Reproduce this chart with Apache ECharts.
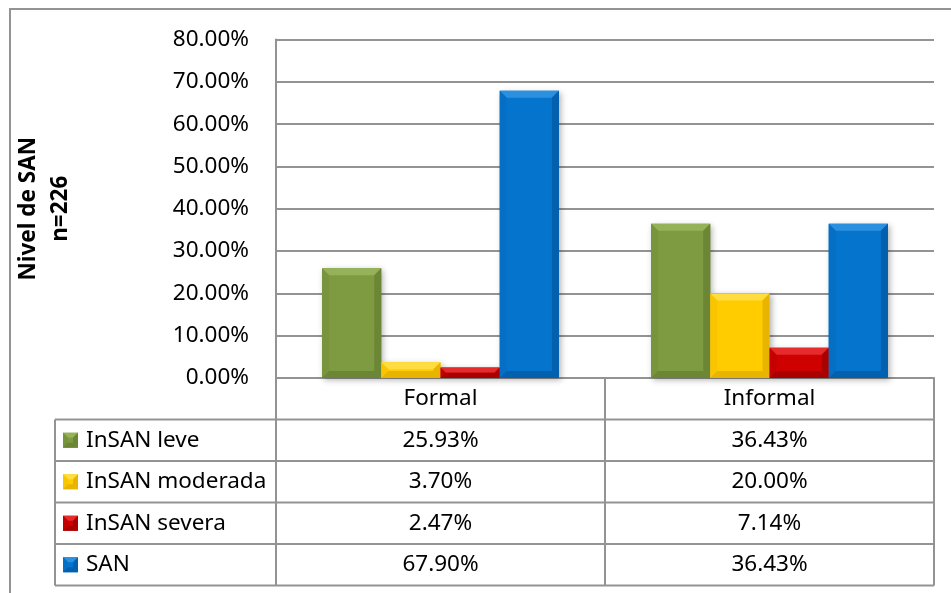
<!DOCTYPE html>
<html>
<head>
<meta charset="utf-8">
<script src="https://cdn.jsdelivr.net/npm/echarts@6/dist/echarts.min.js"></script>
<style>
  html, body { margin: 0; padding: 0; background: #fff; }
  #chart { width: 951px; height: 593px; }
</style>
</head>
<body>
<div id="chart"></div>
<script>
// Categories and series (percent of households, n=226)
const categories = ['Formal', 'Informal'];
const seriesNames = ['InSAN leve', 'InSAN moderada', 'InSAN severa', 'SAN'];
const insanLeve = [25.93, 36.43];
const insanModerada = [3.70, 20.00];
const insanSevera = [2.47, 7.14];
const san = [67.90, 36.43];
const yTickValues = [0, 10, 20, 30, 40, 50, 60, 70, 80];
const axisTitle = 'Nivel de SAN\nn=226';

const seriesValues = [insanLeve, insanModerada, insanSevera, san];

// Bevelled fill palette: face, top facet, left facet, right/bottom facet
const palette = [
  { base: '#7f9b42', light: '#95b259', left: '#78943d', dark: '#6b8635' },
  { base: '#ffcc00', light: '#ffdd40', left: '#f8c500', dark: '#e9b400' },
  { base: '#cf0000', light: '#e52b2b', left: '#c40000', dark: '#a90000' },
  { base: '#0574cc', light: '#2c90e1', left: '#056ec5', dark: '#0360ae' }
];

const FONT = '"Noto Sans", "Open Sans", sans-serif';
const LINE = '#939393';
const FS = 22.5;
const CAT_GAP = 0.28; // share of each category left empty around its bar group

const fmt = v => v.toFixed(2) + '%';

// Draws a bevelled block: flat face with four sloped facets
function bevelShapes(x0, y0, x1, y1, b, p, z) {
  const poly = (pts, fill) => ({ type: 'polygon', shape: { points: pts }, style: { fill }, z2: z });
  return [
    poly([[x0, y0], [x1, y0], [x1 - b, y0 + b], [x0 + b, y0 + b]], p.light),
    poly([[x0, y0], [x0 + b, y0 + b], [x0 + b, y1 - b], [x0, y1]], p.left),
    poly([[x1, y0], [x1, y1], [x1 - b, y1 - b], [x1 - b, y0 + b]], p.dark),
    poly([[x0, y1], [x0 + b, y1 - b], [x1 - b, y1 - b], [x1, y1]], p.dark)
  ];
}

const chart = echarts.init(document.getElementById('chart'), null, { renderer: 'canvas' });

const gridBox = { left: 276, top: 39.5, right: 17, height: 338.5 };

function barRenderer(sIdx) {
  const p = palette[sIdx];
  return function (params, api) {
    const cat = api.value(0);
    const val = api.value(1);
    const band = api.size([1, 0])[0];
    const barW = band * (1 - CAT_GAP) / seriesNames.length;
    const base = api.coord([cat, 0]);
    const top = api.coord([cat, val]);
    const x0 = base[0] - band * (1 - CAT_GAP) / 2 + sIdx * barW;
    const x1 = x0 + barW;
    const y0 = top[1];
    const y1 = base[1];
    const b = Math.min(7, (y1 - y0) / 2, barW / 2);
    return {
      type: 'group',
      children: [
        {
          type: 'rect',
          shape: { x: x0, y: y0, width: x1 - x0, height: y1 - y0 },
          style: {
            fill: p.base,
            shadowBlur: 6,
            shadowColor: 'rgba(0,0,0,0.3)',
            shadowOffsetX: 2,
            shadowOffsetY: 2
          },
          z2: 1
        }
      ].concat(bevelShapes(x0, y0, x1, y1, b, p, 2))
    };
  };
}

chart.setOption({
  animation: false,
  backgroundColor: '#fff',
  textStyle: { fontFamily: FONT },
  grid: { left: gridBox.left, top: gridBox.top, right: gridBox.right, height: gridBox.height, containLabel: false },
  xAxis: {
    type: 'category',
    data: categories,
    axisLine: { show: true, lineStyle: { color: LINE, width: 2 } },
    axisTick: { show: false },
    axisLabel: { fontSize: FS, color: '#000', margin: 9, fontFamily: FONT }
  },
  yAxis: {
    type: 'value',
    min: yTickValues[0],
    max: yTickValues[yTickValues.length - 1],
    interval: yTickValues[1] - yTickValues[0],
    name: axisTitle,
    nameLocation: 'middle',
    nameRotate: 90,
    nameGap: 199,
    nameTextStyle: { fontSize: FS, fontWeight: 'bold', color: '#000', lineHeight: 32, fontFamily: FONT },
    axisLine: { show: true, lineStyle: { color: LINE, width: 2 } },
    axisTick: { show: false },
    splitLine: { lineStyle: { color: LINE, width: 2 } },
    axisLabel: { fontSize: FS, color: '#000', margin: 27, fontFamily: FONT, formatter: v => fmt(v) }
  },
  series: seriesNames.map((name, i) => ({
    name,
    type: 'custom',
    renderItem: barRenderer(i),
    encode: { x: 0, y: 1 },
    data: seriesValues[i].map((v, c) => [c, v]),
    z: 5
  }))
});

// Data table under the plot, laid out from the axis positions
function buildTable() {
  const y0 = chart.convertToPixel({ yAxisIndex: 0 }, 0);
  const xLeft = gridBox.left;
  const xRight = 951 - gridBox.right;
  const tableLeft = 55;
  const rowH = 41.5;
  const headerBottom = y0 + rowH;
  const colCenters = categories.map(c => chart.convertToPixel({ xAxisIndex: 0 }, c));
  const divider = (colCenters[0] + colCenters[1]) / 2;
  const bottom = headerBottom + rowH * seriesNames.length;

  const els = [];
  // outer chart frame
  els.push({ type: 'rect', shape: { x: 10, y: 9, width: 980, height: 640 },
    style: { fill: null, stroke: LINE, lineWidth: 2 }, silent: true, z: 0 });
  const line = (x1, y1, x2, y2) => els.push({ type: 'line', shape: { x1, y1, x2, y2 },
    style: { stroke: LINE, lineWidth: 2 }, silent: true, z: 10 });

  line(xLeft, y0, xLeft, bottom);
  line(xRight, y0, xRight, bottom);
  line(divider, y0, divider, bottom);
  line(tableLeft, headerBottom, tableLeft, bottom);
  for (let r = 0; r <= seriesNames.length; r++) {
    const y = headerBottom + rowH * r;
    line(tableLeft, y, xRight, y);
  }

  seriesNames.forEach((name, r) => {
    const cy = headerBottom + rowH * r + rowH / 2;
    const p = palette[r];
    // legend key: small bevelled square
    const kx = 63, ky = cy - 7.5, ks = 15;
    els.push({ type: 'rect', shape: { x: kx, y: ky, width: ks, height: ks },
      style: { fill: p.base }, silent: true, z: 11 });
    bevelShapes(kx, ky, kx + ks, ky + ks, 5, p, 0).forEach(s => {
      els.push({ type: 'polygon', shape: s.shape, style: s.style, silent: true, z: 12 });
    });
    els.push({ type: 'text', x: 86, y: cy,
      style: { text: name, font: FS + 'px ' + FONT, fill: '#000', verticalAlign: 'middle', align: 'left' },
      silent: true, z: 11 });
    seriesValues[r].forEach((v, c) => {
      els.push({ type: 'text', x: colCenters[c], y: cy,
        style: { text: fmt(v), font: FS + 'px ' + FONT, fill: '#000', verticalAlign: 'middle', align: 'center' },
        silent: true, z: 11 });
    });
  });

  chart.setOption({ graphic: { elements: els } });
}
buildTable();
</script>
</body>
</html>
